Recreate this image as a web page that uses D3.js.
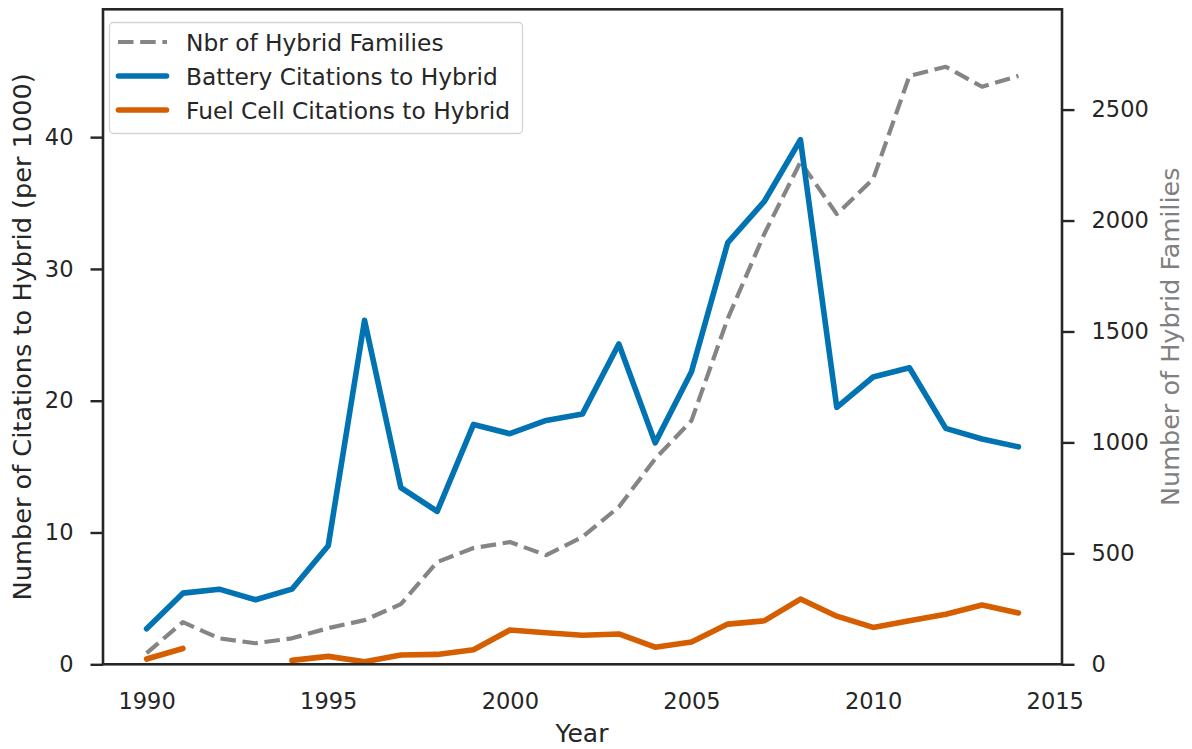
<!DOCTYPE html>
<html>
<head>
<meta charset="utf-8">
<script src="https://cdn.jsdelivr.net/npm/d3@7"></script>
<style>
  html, body { margin: 0; padding: 0; background: #ffffff; }
  svg { display: block; font-family: "DejaVu Sans", sans-serif; }
</style>
</head>
<body>
<svg id="chart" width="1192" height="749"></svg>
<script>
// Yearly series, 1990-2014
const years = d3.range(1990, 2015);

// Number of hybrid families (right axis)
const hybridFamilies = [50, 190, 117, 95, 117, 163, 199, 271, 461, 524, 551, 492,
  574, 709, 926, 1098, 1559, 1938, 2264, 2029, 2187, 2652, 2693, 2603, 2652];

// Battery citations to hybrid, per 1000 (left axis)
const batteryCitations = [2.7, 5.4, 5.7, 4.9, 5.7, 9.0, 26.1, 13.4, 11.6, 18.2, 17.5, 18.5,
  19.0, 24.3, 16.8, 22.2, 32.0, 35.1, 39.8, 19.5, 21.8, 22.5, 17.9, 17.1, 16.5];

// Fuel cell citations to hybrid, per 1000 (left axis); no value for 1992-1993
const fuelCellCitations = [0.4, 1.2, null, null, 0.3, 0.6, 0.2, 0.7, 0.75, 1.1, 2.6, 2.4,
  2.2, 2.3, 1.3, 1.7, 3.05, 3.3, 4.95, 3.65, 2.8, 3.3, 3.8, 4.5, 3.9];

const xTicks = [1990, 1995, 2000, 2005, 2010, 2015];
const leftTicks = [0, 10, 20, 30, 40];
const rightTicks = [0, 500, 1000, 1500, 2000, 2500];

const seriesNames = ["Nbr of Hybrid Families", "Battery Citations to Hybrid", "Fuel Cell Citations to Hybrid"];

const ink = "#262626";
const colors = { families: "#858585", battery: "#0173B2", fuel: "#D55E00" };

const svg = d3.select("#chart");
const plot = { left: 103, right: 1062, top: 9.3, bottom: 664.3 };

const x = d3.scaleLinear().domain([1988.8, 2015.2]).range([plot.left, plot.right]);
const yLeft = d3.scaleLinear().domain([0, 49.7]).range([plot.bottom, plot.top]);
const yRight = d3.scaleLinear().domain([0, 2952]).range([plot.bottom, plot.top]);

// Axes
const xAxis = svg.append("g")
  .attr("transform", `translate(0,${plot.bottom})`)
  .call(d3.axisBottom(x).tickValues(xTicks).tickFormat(d3.format("d"))
    .tickSizeInner(0).tickSizeOuter(0).tickPadding(29));

const leftAxis = svg.append("g")
  .attr("transform", `translate(${plot.left},0)`)
  .call(d3.axisLeft(yLeft).tickValues(leftTicks).tickFormat(d3.format("d"))
    .tickSizeInner(12.5).tickSizeOuter(0).tickPadding(17));

const rightAxis = svg.append("g")
  .attr("transform", `translate(${plot.right},0)`)
  .call(d3.axisRight(yRight).tickValues(rightTicks).tickFormat(d3.format("d"))
    .tickSizeInner(12.5).tickSizeOuter(0).tickPadding(17));

[xAxis, leftAxis, rightAxis].forEach(g => {
  g.select(".domain").remove();
  g.selectAll(".tick line").attr("stroke", ink).attr("stroke-width", 2.4);
  g.selectAll(".tick text")
    .attr("fill", ink)
    .style("font-size", "22.5px")
    .style("font-family", "'DejaVu Sans', sans-serif");
});

// Lines
const lineFamilies = d3.line()
  .x((d, i) => x(years[i]))
  .y(d => yRight(d));

const lineLeft = d3.line()
  .defined(d => d !== null)
  .x((d, i) => x(years[i]))
  .y(d => yLeft(d));

const lines = svg.append("g");

lines.append("path")
  .datum(hybridFamilies)
  .attr("d", lineFamilies)
  .attr("fill", "none")
  .attr("stroke", colors.families)
  .attr("stroke-width", 4.2)
  .attr("stroke-dasharray", "15.5,6.7")
  .attr("stroke-linejoin", "round");

lines.append("path")
  .datum(batteryCitations)
  .attr("d", lineLeft)
  .attr("fill", "none")
  .attr("stroke", colors.battery)
  .attr("stroke-width", 5.6)
  .attr("stroke-linejoin", "round")
  .attr("stroke-linecap", "round");

lines.append("path")
  .datum(fuelCellCitations)
  .attr("d", lineLeft)
  .attr("fill", "none")
  .attr("stroke", colors.fuel)
  .attr("stroke-width", 5.6)
  .attr("stroke-linejoin", "round")
  .attr("stroke-linecap", "round");

// Frame
svg.append("rect")
  .attr("x", plot.left)
  .attr("y", plot.top)
  .attr("width", plot.right - plot.left)
  .attr("height", plot.bottom - plot.top)
  .attr("fill", "none")
  .attr("stroke", ink)
  .attr("stroke-width", 2.6);

// Axis titles
svg.append("text")
  .attr("x", (x(2001) + x(2003)) / 2 - 0.5)
  .attr("y", 742)
  .attr("text-anchor", "middle")
  .attr("fill", ink)
  .style("font-size", "25px")
  .text("Year");

svg.append("text")
  .attr("transform", `translate(22,${(plot.top + plot.bottom) / 2}) rotate(-90)`)
  .attr("text-anchor", "middle")
  .attr("dominant-baseline", "central")
  .attr("fill", ink)
  .style("font-size", "25.6px")
  .text("Number of Citations to Hybrid (per 1000)");

svg.append("text")
  .attr("transform", `translate(1170,${(plot.top + plot.bottom) / 2}) rotate(-90)`)
  .attr("text-anchor", "middle")
  .attr("dominant-baseline", "central")
  .attr("fill", "#808080")
  .style("font-size", "25.5px")
  .text("Number of Hybrid Families");

// Legend
const legend = svg.append("g");
legend.append("rect")
  .attr("x", 109.5)
  .attr("y", 22.5)
  .attr("width", 413)
  .attr("height", 111)
  .attr("rx", 4)
  .attr("fill", "#ffffff")
  .attr("fill-opacity", 0.8)
  .attr("stroke", "#d4d4d4")
  .attr("stroke-width", 1.3);

const legendItems = [
  { name: seriesNames[0], color: colors.families, dash: "15.5,6.7", width: 4.2, cap: "butt" },
  { name: seriesNames[1], color: colors.battery, dash: null, width: 5.6, cap: "round" },
  { name: seriesNames[2], color: colors.fuel, dash: null, width: 5.6, cap: "round" }
];

const rowY = d3.scalePoint().domain(legendItems.map(d => d.name)).range([42, 110]);

legendItems.forEach(item => {
  const yy = rowY(item.name);
  legend.append("line")
    .attr("x1", item.cap === "butt" ? 118 : 118.5)
    .attr("x2", item.cap === "butt" ? 167 : 166.5)
    .attr("y1", yy).attr("y2", yy)
    .attr("stroke", item.color)
    .attr("stroke-width", item.width)
    .attr("stroke-linecap", item.cap)
    .attr("stroke-dasharray", item.dash);
  legend.append("text")
    .attr("x", 186)
    .attr("y", yy)
    .attr("dominant-baseline", "central")
    .attr("fill", ink)
    .style("font-size", "23.3px")
    .text(item.name);
});
</script>
</body>
</html>
